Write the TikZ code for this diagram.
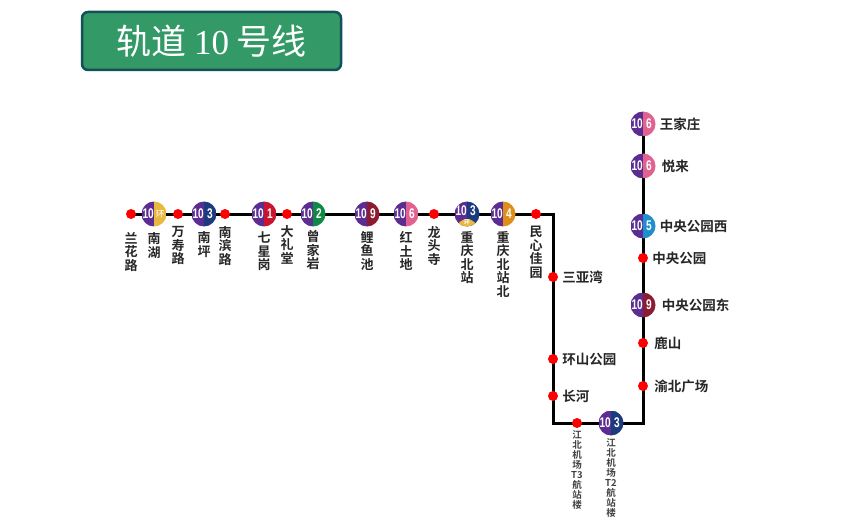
\documentclass[tikz,border=0pt]{standalone}
\usepackage{fontspec}
\usepackage{xcolor}
\usepackage{tikz}
\usetikzlibrary{positioning,backgrounds}
\setmainfont{Liberation Sans}
\newfontfamily\cjk[BoldFont={Noto Sans CJK SC Bold}]{Noto Sans CJK SC}
\newfontfamily\serifnum{Liberation Serif}
\newfontfamily\badgefont[FakeStretch=0.72]{Liberation Sans Bold}
\definecolor{lineTen}{HTML}{5B2C91}
\definecolor{lineRing}{HTML}{E8B83F}
\definecolor{lineOne}{HTML}{C8142D}
\definecolor{lineTwo}{HTML}{0E8A45}
\definecolor{lineThree}{HTML}{1C3A7E}
\definecolor{lineFour}{HTML}{E08E1A}
\definecolor{lineFive}{HTML}{1E8FCB}
\definecolor{lineSix}{HTML}{E2628F}
\definecolor{lineNine}{HTML}{8C1C32}
\definecolor{titleFill}{HTML}{339966}
\definecolor{titleEdge}{HTML}{12505A}
\newcommand{\badgeHalves}[3]{%
    \fill[lineTen] (path picture bounding box.south west) rectangle (path picture bounding box.north);
    \fill[#1] (path picture bounding box.south) rectangle (path picture bounding box.north east);
    \node[badgeNum, xshift=-5.8pt, yshift=#3] at (path picture bounding box.center) {10};
    \node[badgeNum, xshift=6pt, yshift=#3] at (path picture bounding box.center) {#2};
}
\tikzset{
    halt/.style={circle, fill=red, minimum size=10pt, inner sep=0pt},
    badgeNum/.style={font=\badgefont\fontsize{14}{14}\selectfont, text=white, inner sep=0pt},
    badge/.style 2 args={circle, minimum size=25pt, inner sep=0pt, path picture={\badgeHalves{#1}{#2}{0pt}}},
    ringBadge/.style={circle, minimum size=25pt, inner sep=0pt, path picture={
        \fill[lineRing] ([yshift=-15.5pt]path picture bounding box.center) circle (10.5pt);
        \node[text=white, inner sep=0pt, yshift=-8.5pt, font=\cjk\bfseries\fontsize{6}{6}\selectfont] at (path picture bounding box.center) {环};
    }},
    nameV/.style={inner sep=0pt, align=center, font=\cjk\bfseries\fontsize{13}{13.5}\selectfont, text=black!85},
    nameH/.style={inner sep=0pt, font=\cjk\bfseries\fontsize{13.5}{13.5}\selectfont, text=black!85},
    nameS/.style={inner sep=0pt, align=center, font=\cjk\bfseries\fontsize{9.5}{10}\selectfont, text=black!75},
    trackLine/.style={line width=3pt, black, line join=miter},
}
\begin{document}
\begin{tikzpicture}[x=1pt, y=-1pt]
    \useasboundingbox (0,0) rectangle (860,524);

    % Titel
    \node[draw=titleEdge, fill=titleFill, line width=2.5pt, rounded corners=6pt, minimum width=259pt, minimum height=58pt, text=white, font=\cjk\fontsize{35}{35}\selectfont] (title) at (211.5,41) {轨道 {\serifnum 10} 号线};

    % Stationen oben
    \node[halt] (lanhua) at (131,214) {};
    \node[badge={lineRing}{\cjk\fontsize{9}{9}\selectfont 环}] (nanhu) at (154,214) {};
    \node[halt] (wanshou) at (178,214) {};
    \node[badge={lineThree}{3}] (nanping) at (204,214) {};
    \node[halt] (nanbin) at (225,214) {};
    \node[badge={lineOne}{1}] (qixing) at (264,214) {};
    \node[halt] (dali) at (287,214) {};
    \node[badge={lineTwo}{2}] (zengjia) at (313,214) {};
    \node[badge={lineNine}{9}] (liyu) at (367,214) {};
    \node[badge={lineSix}{6}] (hongtu) at (406,214) {};
    \node[halt] (longtou) at (434,214) {};
    \node[circle, minimum size=25pt, inner sep=0pt, path picture={\badgeHalves{lineThree}{3}{3pt}}] (beizhan) at (467,214) {};
    \node[ringBadge] (beizhanRing) at (beizhan) {};
    \node[badge={lineFour}{4}] (beizhanbei) at (503,214) {};
    \node[halt] (minxin) at (536,214) {};

    % Stationen rechts und unten
    \coordinate (cornerTop) at (553,214);
    \node[halt] (sanya) at (553,277) {};
    \node[halt] (huanshan) at (553,359) {};
    \node[halt] (changhe) at (553,396) {};
    \coordinate (cornerLeft) at (553,423);
    \node[halt] (terminalThree) at (577,423) {};
    \node[badge={lineThree}{3}] (terminalTwo) at (611,423) {};
    \coordinate (cornerRight) at (643,423);
    \node[halt] (yubei) at (643,386) {};
    \node[halt] (lushan) at (643,343) {};
    \node[badge={lineNine}{9}] (parkEast) at (643,305) {};
    \node[halt] (park) at (643,258) {};
    \node[badge={lineFive}{5}] (parkWest) at (643,226) {};
    \node[badge={lineSix}{6}] (yuelai) at (643,166) {};
    \node[badge={lineSix}{6}] (wangjia) at (643,124) {};

    % Namen
    \node[nameV, below=13pt of lanhua] (lanhuaName) {兰\\花\\路};
    \node[nameV, below=6pt of nanhu] (nanhuName) {南\\湖};
    \node[nameV, below=7pt of wanshou] (wanshouName) {万\\寿\\路};
    \node[nameV, below=5pt of nanping] (nanpingName) {南\\坪};
    \node[nameV, below=7pt of nanbin] (nanbinName) {南\\滨\\路};
    \node[nameV, below=5pt of qixing] (qixingName) {七\\星\\岗};
    \node[nameV, below=6pt of dali] (daliName) {大\\礼\\堂};
    \node[nameV, below=3.5pt of zengjia] (zengjiaName) {曾\\家\\岩};
    \node[nameV, below=4.5pt of liyu] (liyuName) {鲤\\鱼\\池};
    \node[nameV, below=4.5pt of hongtu] (hongtuName) {红\\土\\地};
    \node[nameV, below=7pt of longtou] (longtouName) {龙\\头\\寺};
    \node[nameV, below=4.5pt of beizhan] (beizhanName) {重\\庆\\北\\站};
    \node[nameV, below=4.5pt of beizhanbei] (beizhanbeiName) {重\\庆\\北\\站\\北};
    \node[nameV, below=7pt of minxin] (minxinName) {民\\心\\佳\\园};
    \node[nameH, right=4pt of sanya] (sanyaName) {三亚湾};
    \node[nameH, right=4pt of huanshan] (huanshanName) {环山公园};
    \node[nameH, right=4pt of changhe] (changheName) {长河};
    \node[nameS, below=2.5pt of terminalThree] (terminalThreeName) {江\\北\\机\\场\\T3\\航\\站\\楼};
    \node[nameS, below=3pt of terminalTwo] (terminalTwoName) {江\\北\\机\\场\\T2\\航\\站\\楼};
    \node[nameH, right=6pt of yubei] (yubeiName) {渝北广场};
    \node[nameH, right=6pt of lushan] (lushanName) {鹿山};
    \node[nameH, right=6pt of parkEast] (parkEastName) {中央公园东};
    \node[nameH, right=4pt of park] (parkName) {中央公园};
    \node[nameH, right=4pt of parkWest] (parkWestName) {中央公园西};
    \node[nameH, right=6pt of yuelai] (yuelaiName) {悦来};
    \node[nameH, right=4pt of wangjia] (wangjiaName) {王家庄};

    % Linie
    \begin{scope}[on background layer]
        \draw[trackLine] (lanhua.center) -- (zengjia.center) -- (minxin.center) -- (cornerTop) -- (cornerLeft) -- (cornerRight) -- (wangjia.center);
    \end{scope}
\end{tikzpicture}
\end{document}
